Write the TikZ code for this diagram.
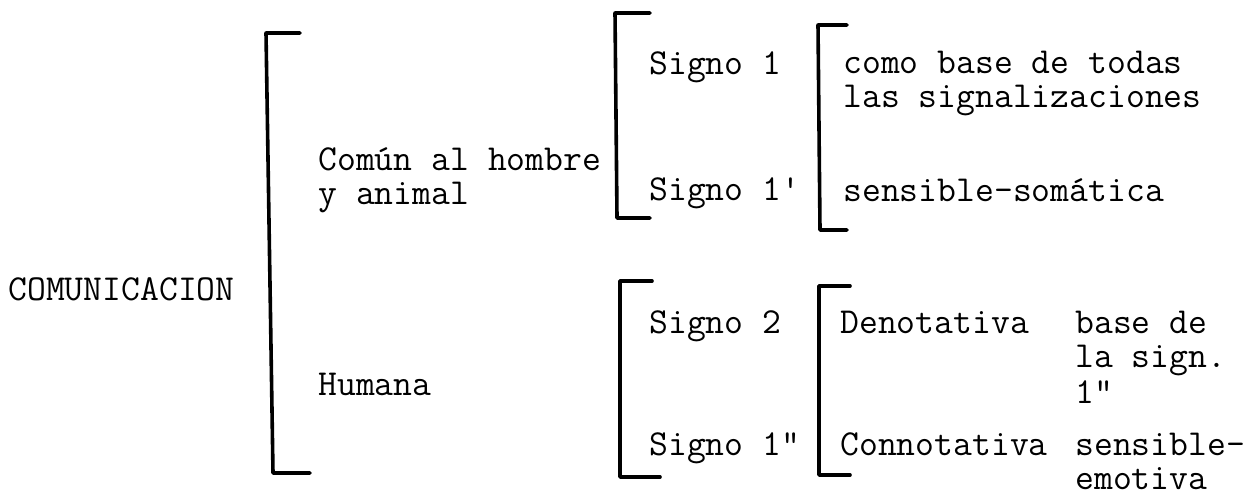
\documentclass[tikz,border=0pt]{standalone}
\usepackage{fontspec}
\usepackage{tikz}
\tikzset{
  txt/.style = {anchor=base west, inner sep=0pt,
    font=\ttfamily\fontsize{18.3pt}{20pt}\selectfont},% texto a maquina
  brk/.style = {line width=1.8pt, line cap=round,
    line join=round}% corchete
}

\begin{document}
\begin{tikzpicture}[x=0.5pt, y=-0.5pt]
\useasboundingbox (0,0) rectangle (1256,497);
% corchetes
\draw [brk] (300,33) -- (266,33) -- (273,473) -- (310,473);
\draw [brk] (650,13) -- (615,13) -- (617,218) -- (650,218);
\draw [brk] (847,25) -- (818,25) -- (820,230) -- (847,230);
\draw [brk] (652,281) -- (620,281) -- (620,477) -- (660,477);
\draw [brk] (850,286) -- (819,286) -- (819,475) -- (850,475);
% raiz
\node [txt] (com) at (8,300) {COMUNICACION};
% primer nivel
\node [txt] (comun) at (318,170) {Común al hombre};
\node [txt] (comun2) at (318,205) {y animal};
\node [txt] (hum) at (318,395) {Humana};
% signos
\node [txt] (s1) at (649,75) {Signo 1};
\node [txt] (s1p) at (649,200) {Signo 1'};
\node [txt] (s2) at (649,333) {Signo 2};
\node [txt] (s1pp) at (649,455) {Signo 1"};
% funciones
\node [txt] (base1) at (843,74) {como base de todas};
\node [txt] (base2) at (843,108) {las signalizaciones};
\node [txt] (som) at (843,202) {sensible-somática};
\node [txt] (den) at (840,333) {Denotativa};
\node [txt] (con) at (840,455) {Connotativa};
% notas
\node [txt] (nb1) at (1075,333) {base de};
\node [txt] (nb2) at (1075,367) {la sign.};
\node [txt] (nb3) at (1075,403) {1"};
\node [txt] (ne1) at (1075,455) {sensible-};
\node [txt] (ne2) at (1075,489) {emotiva};
\end{tikzpicture}
\end{document}
